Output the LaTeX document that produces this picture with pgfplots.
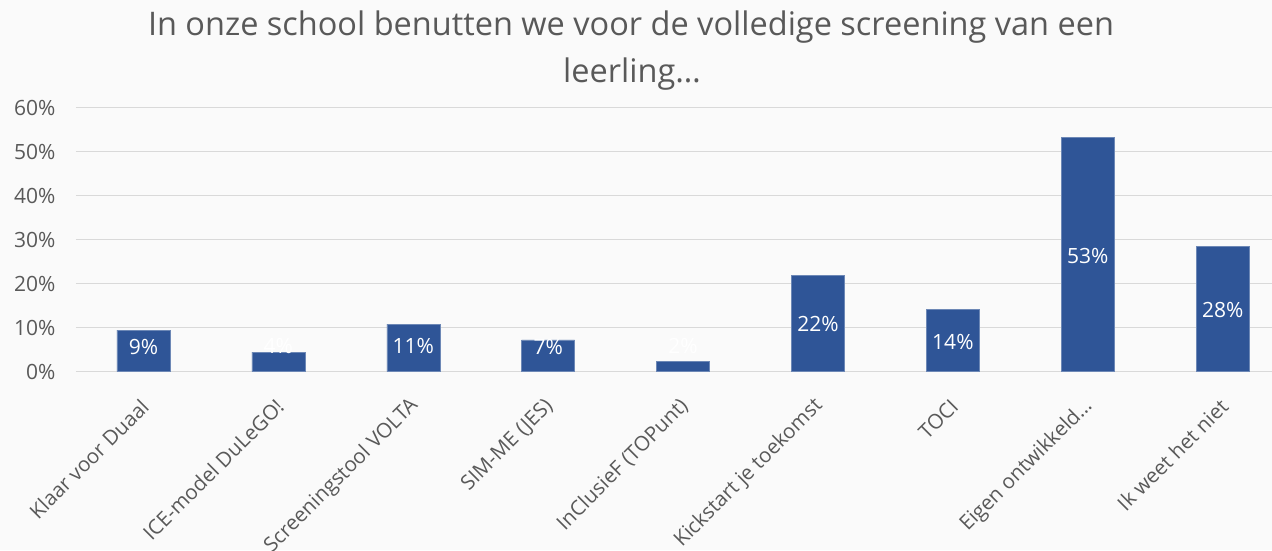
\documentclass[border=0pt]{standalone}
\usepackage{fontspec}
\setmainfont{Open Sans}
\usepackage{pgfplots}
\pgfplotsset{compat=1.18}
\definecolor{barblue}{HTML}{2F5597}
\definecolor{txtgray}{HTML}{595959}
\definecolor{gridgray}{HTML}{D9D9D9}
\definecolor{bg}{HTML}{FAFAFA}
\begin{document}
\begin{tikzpicture}[x=1pt,y=1pt]
\path[fill=bg,use as bounding box] (0,0) rectangle (1272,550);
\node[txtgray,font=\fontsize{32.5}{36}\selectfont,anchor=base] at (631,514) {In onze school benutten we voor de volledige screening van een};
\node[txtgray,font=\fontsize{32.5}{36}\selectfont,anchor=base] at (632,467) {leerling\ldots};
\begin{axis}[
  at={(76pt,178.5pt)}, anchor=south west,
  scale only axis, width=1196pt, height=263.8pt,
  xmin=-0.5, xmax=8.366, ymin=0, ymax=60,
  clip=false,
  axis line style={draw=none},
  major tick length=0pt,
  ymajorgrids, grid style={gridgray, line width=1.3pt},
  ytick={0,10,20,30,40,50,60},
  yticklabels={0\%,10\%,20\%,30\%,40\%,50\%,60\%},
  yticklabel style={txtgray, font=\fontsize{21}{24}\selectfont, xshift=-17pt},
  xtick={0,1,2,3,4,5,6,7,8},
  xticklabels={Klaar voor Duaal, ICE-model DuLeGO!, Screeningstool VOLTA, SIM-ME (JES), InClusieF (TOPunt), Kickstart je toekomst, TOCI, Eigen ontwikkeld\ldots, Ik weet het niet},
  xticklabel style={txtgray, font=\fontsize{20.5}{24}\selectfont, xshift=4pt, yshift=-29pt, rotate=45, anchor=east},
]
\addplot[ybar, bar width=53pt, fill=barblue, draw=barblue!70!white, line width=0.5pt] coordinates {
 (0,9.4) (1,4.4) (2,10.8) (3,7.2) (4,2.3) (5,21.9) (6,14.1) (7,53.2) (8,28.5)};
\addplot[draw=none, mark=none, nodes near coords, point meta=explicit symbolic,
  nodes near coords style={white, anchor=center, font=\fontsize{21}{24}\selectfont}] coordinates {
 (0,5.6)[9\%] (1,5.8)[4\%] (2,5.8)[11\%] (3,5.6)[7\%] (4,5.8)[2\%] (5,10.8)[22\%] (6,6.8)[14\%] (7,26.2)[53\%] (8,14.0)[28\%]};
\end{axis}
\end{tikzpicture}
\end{document}
